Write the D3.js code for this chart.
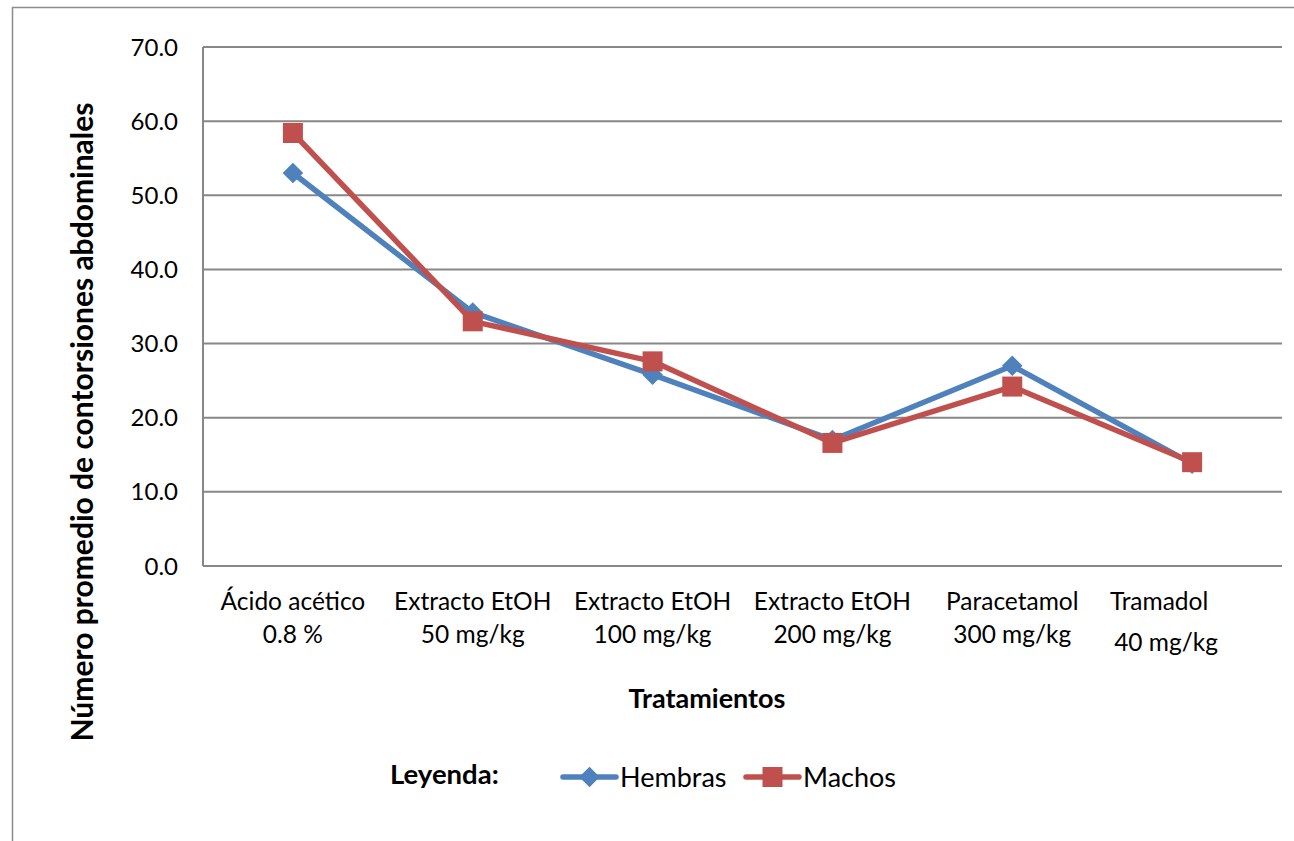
<!DOCTYPE html>
<html>
<head>
<meta charset="utf-8">
<script src="https://cdn.jsdelivr.net/npm/d3@7"></script>
<style>
  html, body { margin: 0; padding: 0; background: #fff; }
  svg { display: block; }
  text { font-family: Lato, "Open Sans", sans-serif; fill: #000; }
</style>
</head>
<body>
<svg id="chart" width="1294" height="841"></svg>
<script>
// Tratamientos (two-line category labels)
const categories = [
  ["Ácido acético", "0.8 %"],
  ["Extracto EtOH", "50 mg/kg"],
  ["Extracto EtOH", "100 mg/kg"],
  ["Extracto EtOH", "200 mg/kg"],
  ["Paracetamol", "300 mg/kg"],
  ["Tramadol", "40 mg/kg"]
];
// Número promedio de contorsiones abdominales por sexo
const hembras = [53.0, 34.2, 25.8, 17.0, 27.0, 13.8];
const machos  = [58.4, 33.0, 27.6, 16.6, 24.2, 14.0];
const yTicks  = [0, 10, 20, 30, 40, 50, 60, 70];

const svg = d3.select("#chart");
const W = 1294, H = 841;
const plot = { left: 203, right: 1282, top: 47, bottom: 566 };

// outer frame of the chart area
svg.append("path")
  .attr("d", `M12.5,${H} L12.5,7.5 L${W},7.5`)
  .attr("fill", "none").attr("stroke", "#8c8c8c").attr("stroke-width", 1.5);

const x = d3.scalePoint()
  .domain(d3.range(categories.length))
  .range([plot.left, plot.right])
  .padding(0.5);
const y = d3.scaleLinear().domain([0, 70]).range([plot.bottom, plot.top]);

// horizontal gridlines
svg.append("g").selectAll("line").data(yTicks).join("line")
  .attr("x1", plot.left).attr("x2", plot.right)
  .attr("y1", d => y(d)).attr("y2", d => y(d))
  .attr("stroke", "#878787").attr("stroke-width", 2);

// vertical axis line
svg.append("line")
  .attr("x1", plot.left).attr("x2", plot.left)
  .attr("y1", plot.top).attr("y2", plot.bottom)
  .attr("stroke", "#878787").attr("stroke-width", 2);

// y tick labels
svg.append("g").selectAll("text").data(yTicks).join("text")
  .attr("x", 178).attr("y", d => y(d))
  .attr("dy", "0.36em")
  .attr("text-anchor", "end")
  .style("font-size", "24px")
  .text(d => d.toFixed(1));

// x category labels
const last = categories.length - 1;
const xl = svg.append("g").selectAll("text").data(categories).join("text")
  .attr("text-anchor", "middle")
  .style("font-size", "24.5px");
xl.append("tspan")
  .attr("x", (d, i) => x(i) + (i === last ? -33 : 0))
  .attr("y", 610)
  .text(d => d[0]);
xl.append("tspan")
  .attr("x", (d, i) => x(i) + (i === last ? -26 : 0))
  .attr("y", (d, i) => i === last ? 651 : 643)
  .text(d => d[1]);

// axis titles
svg.append("text")
  .attr("x", 707).attr("y", 708)
  .attr("text-anchor", "middle")
  .style("font-size", "27px").style("font-weight", "bold")
  .text("Tratamientos");

svg.append("text")
  .attr("transform", "translate(93,422) rotate(-90)")
  .attr("text-anchor", "middle")
  .style("font-size", "30px").style("font-weight", "bold")
  .text("Número promedio de contorsiones abdominales");

// series
const series = [
  { name: "Hembras", values: hembras, color: "#4F81BD", shape: "diamond" },
  { name: "Machos",  values: machos,  color: "#C0504D", shape: "square" }
];

const line = d3.line().x((d, i) => x(i)).y(d => y(d));

function marker(g, shape, color) {
  if (shape === "diamond") {
    g.append("path")
      .attr("d", d3.symbol(d3.symbolDiamond2, 270)())
      .attr("fill", color);
  } else {
    g.append("rect")
      .attr("x", -10).attr("y", -10).attr("width", 20).attr("height", 20)
      .attr("fill", color);
  }
}

series.forEach(s => {
  svg.append("path")
    .datum(s.values)
    .attr("d", line)
    .attr("fill", "none")
    .attr("stroke", s.color)
    .attr("stroke-width", 5.5)
    .attr("stroke-linejoin", "round");
  s.values.forEach((v, i) => {
    const g = svg.append("g").attr("transform", `translate(${x(i)},${y(v)})`);
    marker(g, s.shape, s.color);
  });
});

// legend
svg.append("text")
  .attr("x", 390).attr("y", 784)
  .style("font-size", "27.5px").style("font-weight", "bold")
  .text("Leyenda:");

const legendItems = [
  { s: series[0], x0: 563, x1: 616 },
  { s: series[1], x0: 746, x1: 799 }
];
legendItems.forEach(it => {
  const cy = 777;
  svg.append("line")
    .attr("x1", it.x0).attr("x2", it.x1).attr("y1", cy).attr("y2", cy)
    .attr("stroke", it.s.color).attr("stroke-width", 5.5).attr("stroke-linecap", "round");
  const g = svg.append("g").attr("transform", `translate(${(it.x0 + it.x1) / 2},${cy})`);
  marker(g, it.s.shape, it.s.color);
  svg.append("text")
    .attr("x", it.x1 + 4).attr("y", cy).attr("dy", "0.36em")
    .style("font-size", "27px")
    .text(it.s.name);
});
</script>
</body>
</html>
